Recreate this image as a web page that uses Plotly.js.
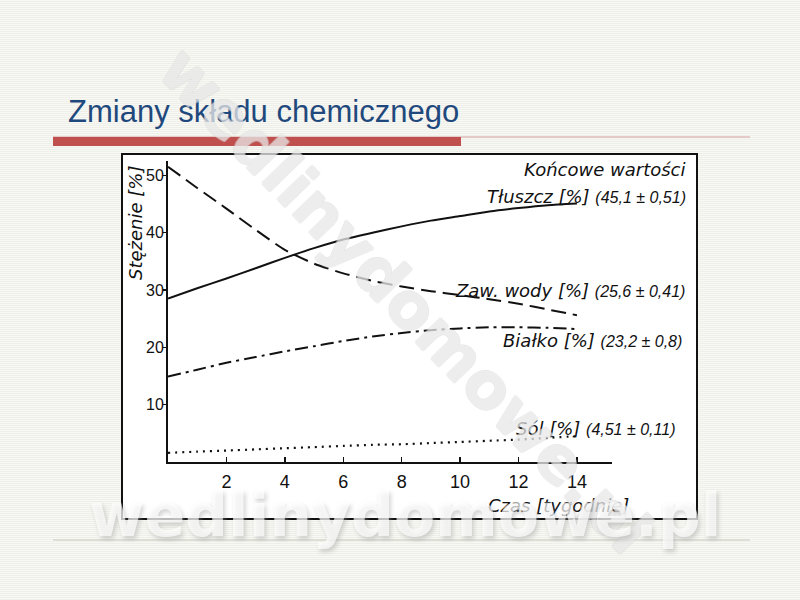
<!DOCTYPE html>
<html>
<head>
<meta charset="utf-8">
<script src="https://cdn.plot.ly/plotly-3.0.1.min.js"></script>
<style>
  html, body { margin: 0; padding: 0; }
  body {
    width: 800px; height: 600px; overflow: hidden;
    background: repeating-linear-gradient(to bottom, #f8f8f4 0px, #f8f8f4 1px, #efefe9 1px, #efefe9 2px);
  }
  #chart { width: 800px; height: 600px; }
</style>
</head>
<body>
<div id="chart"></div>
<script>
// Time in weeks and concentrations [%] of the four components
const weeks   = [0, 1, 2, 3, 4, 5, 6, 7, 8, 9, 10, 11, 12, 13, 14];
const fat     = [28.5, 30.3, 32.0, 33.8, 35.6, 37.3, 38.8, 40.0, 41.1, 42.1, 42.9, 43.7, 44.3, 44.8, 45.1];
const water   = [51.5, 47.8, 44.2, 40.5, 37.0, 34.6, 32.9, 31.6, 30.6, 29.8, 29.1, 28.4, 27.6, 26.6, 25.6];
const protein = [14.9, 16.1, 17.3, 18.3, 19.3, 20.2, 21.1, 21.9, 22.5, 23.0, 23.3, 23.5, 23.5, 23.4, 23.2];
const salt    = [1.6, 1.8, 2.0, 2.2, 2.4, 2.6, 2.8, 3.0, 3.1, 3.3, 3.5, 3.7, 3.9, 4.2, 4.51];

// Final values and their spread
const seriesNames = ['Tłuszcz [%]', 'Zaw. wody [%]', 'Białko [%]', 'Sól [%]'];
const seriesData  = [fat, water, protein, salt];
const finalErrors = [0.51, 0.41, 0.8, 0.11];

const xTicks = [2, 4, 6, 8, 10, 12, 14];
const yTicks = [10, 20, 30, 40, 50];

// page size and plot-area margins (pixels)
const W = 800, H = 600;
const M = { l: 168, r: 188, t: 161, b: 138 };
const plotW = W - M.l - M.r, plotH = H - M.t - M.b;
// convert page pixels to paper coordinates (paper spans the plot area)
const px = x => (x - M.l) / plotW;
const py = y => (H - M.b - y) / plotH;
const comma = v => String(v).replace('.', ',');

const dashes = ['solid', '15px,7px', '13px,5px,3px,5px', '2px,5px'];

const traces = seriesData.map((ys, i) => ({
  x: weeks, y: ys, type: 'scatter', mode: 'lines',
  name: seriesNames[i],
  line: { color: '#111', width: i === 3 ? 2.2 : 2, dash: dashes[i], shape: 'spline', smoothing: 0.6 },
  hoverinfo: 'skip'
}));

const nameFont = 'DejaVu Sans, sans-serif';
const labelY = [196, 290, 340, 428];
const labelX = [688, 687, 684, 677];
const annotations = [];

seriesNames.forEach((n, i) => {
  const last = seriesData[i][seriesData[i].length - 1];
  annotations.push({
    xref: 'paper', yref: 'paper', x: px(labelX[i]), y: py(labelY[i]),
    xanchor: 'right', yanchor: 'middle', showarrow: false,
    text: '<i>' + n + '</i> <span style="font-family:Liberation Sans;font-size:16px;font-style:italic">(' +
          comma(last) + ' ± ' + comma(finalErrors[i]) + ')</span>',
    font: { family: nameFont, size: 18, color: '#111' }
  });
});

annotations.push(
  { xref: 'paper', yref: 'paper', x: px(688), y: py(169), xanchor: 'right', yanchor: 'middle', showarrow: false,
    text: '<i>Końcowe wartości</i>', font: { family: nameFont, size: 18, color: '#111' } },
  { xref: 'paper', yref: 'paper', x: px(631), y: py(505), xanchor: 'right', yanchor: 'middle', showarrow: false,
    text: '<i>Czas [tygodnie]</i>', font: { family: nameFont, size: 18, color: '#111' } },
  { xref: 'paper', yref: 'paper', x: px(135), y: py(223), xanchor: 'center', yanchor: 'middle', showarrow: false,
    textangle: -90, text: '<i>Stężenie [%]</i>', font: { family: nameFont, size: 18, color: '#111' } },
  // slide heading
  { xref: 'paper', yref: 'paper', x: px(66), y: py(111), xanchor: 'left', yanchor: 'middle', showarrow: false,
    text: 'Zmiany składu chemicznego', font: { family: 'Liberation Sans, sans-serif', size: 31, color: '#1f497d' } },
  // site marks
  { xref: 'paper', yref: 'paper', x: px(405), y: py(300), xanchor: 'center', yanchor: 'middle', showarrow: false,
    textangle: 46, text: 'wedlinydomowe.pl', opacity: 0.8,
    font: { family: 'DejaVu Sans, sans-serif', size: 64, weight: 'bold', color: 'rgba(255,255,255,0.45)',
            shadow: '1px 0 0 #d2d2d2, -1px 0 0 #d2d2d2, 0 1px 0 #d2d2d2, 0 -1px 0 #d2d2d2' } },
  { xref: 'paper', yref: 'paper', x: px(405), y: py(515), xanchor: 'center', yanchor: 'middle', showarrow: false,
    text: 'wedlinydomowe.pl', opacity: 0.9,
    font: { family: 'DejaVu Sans, sans-serif', size: 60, weight: 'bold', color: 'rgba(255,255,255,0.75)',
            shadow: '2px 3px 4px rgba(150,150,150,0.6)' } }
);

const shapes = [
  { type: 'rect', xref: 'paper', yref: 'paper', x0: px(122), x1: px(697), y0: py(154), y1: py(519),
    fillcolor: '#ffffff', line: { color: '#111', width: 2 }, layer: 'below' },
  { type: 'line', xref: 'paper', yref: 'paper', x0: px(53), x1: px(750), y0: py(137), y1: py(137),
    line: { color: '#d4a09e', width: 1 }, layer: 'below' },
  { type: 'rect', xref: 'paper', yref: 'paper', x0: px(53), x1: px(461), y0: py(137), y1: py(146),
    fillcolor: '#c0504d', line: { width: 0 }, layer: 'below' },
  { type: 'line', xref: 'paper', yref: 'paper', x0: px(53), x1: px(750), y0: py(540), y1: py(540),
    line: { color: '#c9c9c0', width: 1 }, layer: 'below' }
];

const layout = {
  width: W, height: H,
  margin: M,
  paper_bgcolor: 'rgba(0,0,0,0)', plot_bgcolor: 'rgba(0,0,0,0)',
  showlegend: false,
  xaxis: {
    range: [0, 15.2], showgrid: false, zeroline: false,
    showline: true, linecolor: '#111', linewidth: 2,
    tickvals: xTicks, ticks: 'inside', ticklen: 5, tickcolor: '#111', tickwidth: 1.5,
    ticklabelstandoff: 2,
    tickfont: { family: 'Liberation Sans, sans-serif', size: 18, color: '#111' }
  },
  yaxis: {
    range: [0, 52.5], showgrid: false, zeroline: false,
    showline: true, linecolor: '#111', linewidth: 2,
    tickvals: yTicks, ticks: 'outside', ticklen: 3, tickcolor: '#111', tickwidth: 1.5,
    ticklabelstandoff: -4,
    tickfont: { family: 'Liberation Sans, sans-serif', size: 16, color: '#111' }
  },
  shapes: shapes,
  annotations: annotations
};

Plotly.newPlot('chart', traces, layout, { displayModeBar: false, staticPlot: true });
</script>
</body>
</html>
